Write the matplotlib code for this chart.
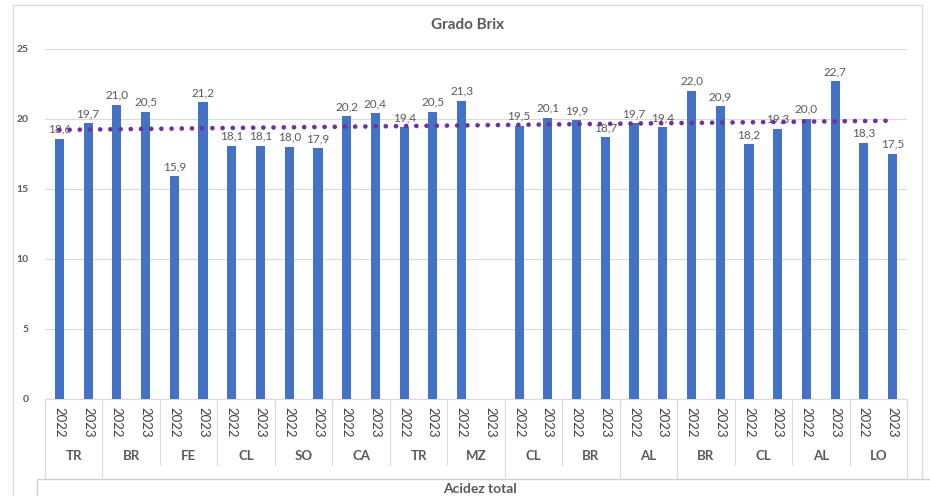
import numpy as np
import matplotlib.pyplot as plt
from matplotlib.patches import Rectangle
from matplotlib.transforms import blended_transform_factory

plt.rcParams['font.family'] = ['Lato', 'DejaVu Sans']

groups = ['TR', 'BR', 'FE', 'CL', 'SO', 'CA', 'TR', 'MZ',
          'CL', 'BR', 'AL', 'BR', 'CL', 'AL', 'LO']
years = ['2022', '2023']
brix_2022 = [18.6, 21.0, 15.9, 18.1, 18.0, 20.2, 19.4, 21.3,
             19.5, 19.9, 19.7, 22.0, 18.2, 20.0, 18.3]
brix_2023 = [19.7, 20.5, 21.2, 18.1, 17.9, 20.4, 20.5, np.nan,
             20.1, 18.7, 19.4, 20.9, 19.3, 22.7, 17.5]
# outer category level (labels are hidden behind the next chart)
outer_bounds = [0, 2, 16, 20, 22, 30]

values = np.array([v for pair in zip(brix_2022, brix_2023) for v in pair])
x = np.arange(len(values))

W, H = 930, 496
fig = plt.figure(figsize=(W / 100, H / 100), dpi=100)

def px(x0, y0, w, h):
    return [x0 / W, 1 - (y0 + h) / H, w / W, h / H]

ax = fig.add_axes(px(45, 49, 862, 350))

bar_col = '#4472C4'
grey = '#595959'
ax.bar(x, np.nan_to_num(values), width=0.32, color=bar_col, zorder=3)

for xi, v in zip(x, values):
    if np.isnan(v):
        continue
    ax.annotate(f'{v:.1f}'.replace('.', ','), (xi, v), xytext=(0, 3),
                textcoords='offset points', ha='center', va='bottom',
                fontsize=8.5, color=grey, zorder=4)

# linear trendline (blank skipped)
ok = ~np.isnan(values)
k, b = np.polyfit(x[ok] + 1, values[ok], 1)
ax.plot(x, k * (x + 1) + b, color='#7030A0', lw=3.4,
        linestyle=(0, (0.01, 2.15)), dash_capstyle='round', zorder=5)

ax.set_xlim(-0.5, len(values) - 0.5)
ax.set_ylim(0, 25)
ax.set_yticks(np.arange(0, 26, 5))
ax.tick_params(axis='y', length=0, pad=12, labelsize=7.5, labelcolor=grey)
for t in ax.get_yticklabels():
    t.set_fontweight('bold')
ax.set_xticks([])
ax.grid(axis='y', color='#d9d9d9', lw=0.8, zorder=0)
for s in ['left', 'right', 'top']:
    ax.spines[s].set_visible(False)
ax.spines['bottom'].set_color('#d9d9d9')

# multi-level category axis
tr = blended_transform_factory(ax.transData, ax.transAxes)
for xi in x:
    ax.text(xi, -8 / 350, years[xi % 2], transform=tr, rotation=-90,
            ha='center', va='top', fontsize=9.5, color='#404040')
for i, g in enumerate(groups):
    ax.text(2 * i + 0.5, -57 / 350, g, transform=tr, ha='center',
            va='center', fontsize=9.5, fontweight='bold', color=grey)
for i in range(len(groups) + 1):
    bottom = -80 / 350 if 2 * i in outer_bounds else -66 / 350
    ax.plot([2 * i - 0.5] * 2, [0, bottom], transform=tr, color='#d9d9d9',
            lw=0.8, clip_on=False)

fig.text(468 / W, 1 - 25 / H, 'Grado Brix', ha='center', va='center',
         fontsize=11, fontweight='bold', color=grey)

# chart frame
fig.patches.append(Rectangle((13 / W, -0.1), 909 / W, 1.1 - 5 / H,
                             transform=fig.transFigure, fill=False,
                             edgecolor='#d9d9d9', lw=1))
# next chart overlapping at the bottom
fig.patches.append(Rectangle((37 / W, -0.1), 1.0, 0.1 + (H - 479) / H,
                             transform=fig.transFigure, facecolor='white',
                             edgecolor='#d0d0d0', lw=1, zorder=10))
fig.text(480 / W, 1 / H, 'Acidez total', ha='center', va='bottom',
         fontsize=10, fontweight='bold', color=grey, zorder=11)

fig.savefig('out.png', dpi=100)
